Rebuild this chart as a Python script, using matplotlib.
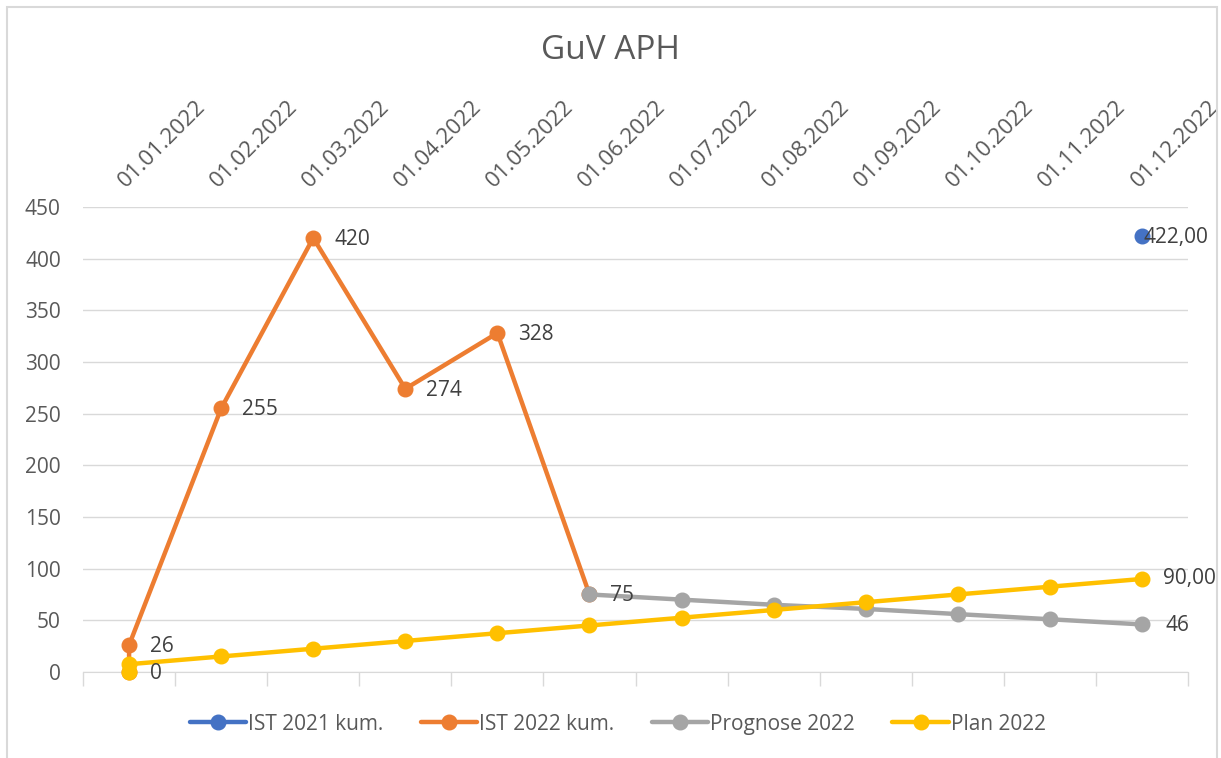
import matplotlib.pyplot as plt
import numpy as np
from matplotlib.patches import Rectangle

plt.rcParams['font.family'] = ['Open Sans', 'DejaVu Sans']

dates = ['01.01.2022', '01.02.2022', '01.03.2022', '01.04.2022', '01.05.2022', '01.06.2022',
         '01.07.2022', '01.08.2022', '01.09.2022', '01.10.2022', '01.11.2022', '01.12.2022']

ist21_x = [11]
ist21 = [422]
ist22_x = [0, 0, 1, 2, 3, 4, 5]
ist22 = [0, 26, 255, 420, 274, 328, 75]
prog_x = [5, 6, 7, 8, 9, 10, 11]
prog = [75, 70, 65, 61, 56, 51, 46]
plan_x = [0, 0, 1, 2, 3, 4, 5, 6, 7, 8, 9, 10, 11]
plan = [0, 7.5, 15, 22.5, 30, 37.5, 45, 52.5, 60, 67.5, 75, 82.5, 90]

fig = plt.figure(figsize=(12.21, 7.58), dpi=100)
ax = fig.add_axes([0.068, 0.1135, 0.905, 0.6135])
# chart frame
fig.patches.append(Rectangle((7 / 1221, -0.01), 1210 / 1221, 1.001, transform=fig.transFigure,
                             fill=False, edgecolor='#d9d9d9', lw=1.5))

kw = dict(lw=3.2, marker='o', markersize=10.5, solid_capstyle='round', clip_on=False)
ax.plot(ist21_x, ist21, color='#4472C4', label='IST 2021 kum.', zorder=3, **kw)
ax.plot(ist22_x, ist22, color='#ED7D31', label='IST 2022 kum.', zorder=4, **kw)
ax.plot(prog_x, prog, color='#A5A5A5', label='Prognose 2022', zorder=5, **kw)
ax.plot(plan_x, plan, color='#FFC000', label='Plan 2022', zorder=6, **kw)

lab = dict(fontsize=15, color='#404040', va='center', textcoords='offset points', zorder=10)
for i in range(1, len(ist22)):
    ax.annotate(str(ist22[i]), (ist22_x[i], ist22[i]), xytext=(15, -1), **lab)
ax.annotate('0', (plan_x[0], plan[0]), xytext=(15, -1), **lab)
ax.annotate('90,00', (plan_x[-1], plan[-1]), xytext=(15, 0), **lab)
ax.annotate(str(prog[-1]), (prog_x[-1], prog[-1]), xytext=(17, -1), **lab)
ax.annotate('422,00', (ist21_x[0], ist21[0]), xytext=(1, -1), **lab)

ax.set_xlim(-0.5, 11.5)
ax.set_ylim(0, 450)
ax.set_yticks(np.arange(0, 451, 50))
ax.yaxis.grid(True, color='#d9d9d9', lw=1)
ax.set_axisbelow(True)
for s in ['left', 'right', 'top']:
    ax.spines[s].set_visible(False)
ax.spines['bottom'].set_color('#d9d9d9')
ax.tick_params(axis='y', length=0, labelsize=15, labelcolor='#595959', pad=16)

ax.set_xticks(range(12))
ax.set_xticklabels(dates)
ax.xaxis.set_ticks_position('top')
ax.tick_params(axis='x', which='major', length=0, labelsize=16, labelcolor='#595959',
               top=True, bottom=False, labeltop=True, labelbottom=False, pad=11)
for t in ax.get_xticklabels():
    t.set_rotation(45)
    t.set_ha('left')
    t.set_va('bottom')
    t.set_rotation_mode('anchor')
ax.set_xticks(np.arange(-0.5, 12, 1), minor=True)
ax.tick_params(axis='x', which='minor', bottom=True, top=False, length=10, color='#d9d9d9', width=1)

fig.text(0.5, 0.934, 'GuV APH', ha='center', va='center', fontsize=24, color='#595959')
ax.legend(loc='center', bbox_to_anchor=(0.484, -0.112), ncol=4, frameon=False,
          fontsize=15, labelcolor='#595959', handlelength=2.7, handletextpad=0.1,
          columnspacing=1.8)

fig.savefig('out.png', dpi=100)
